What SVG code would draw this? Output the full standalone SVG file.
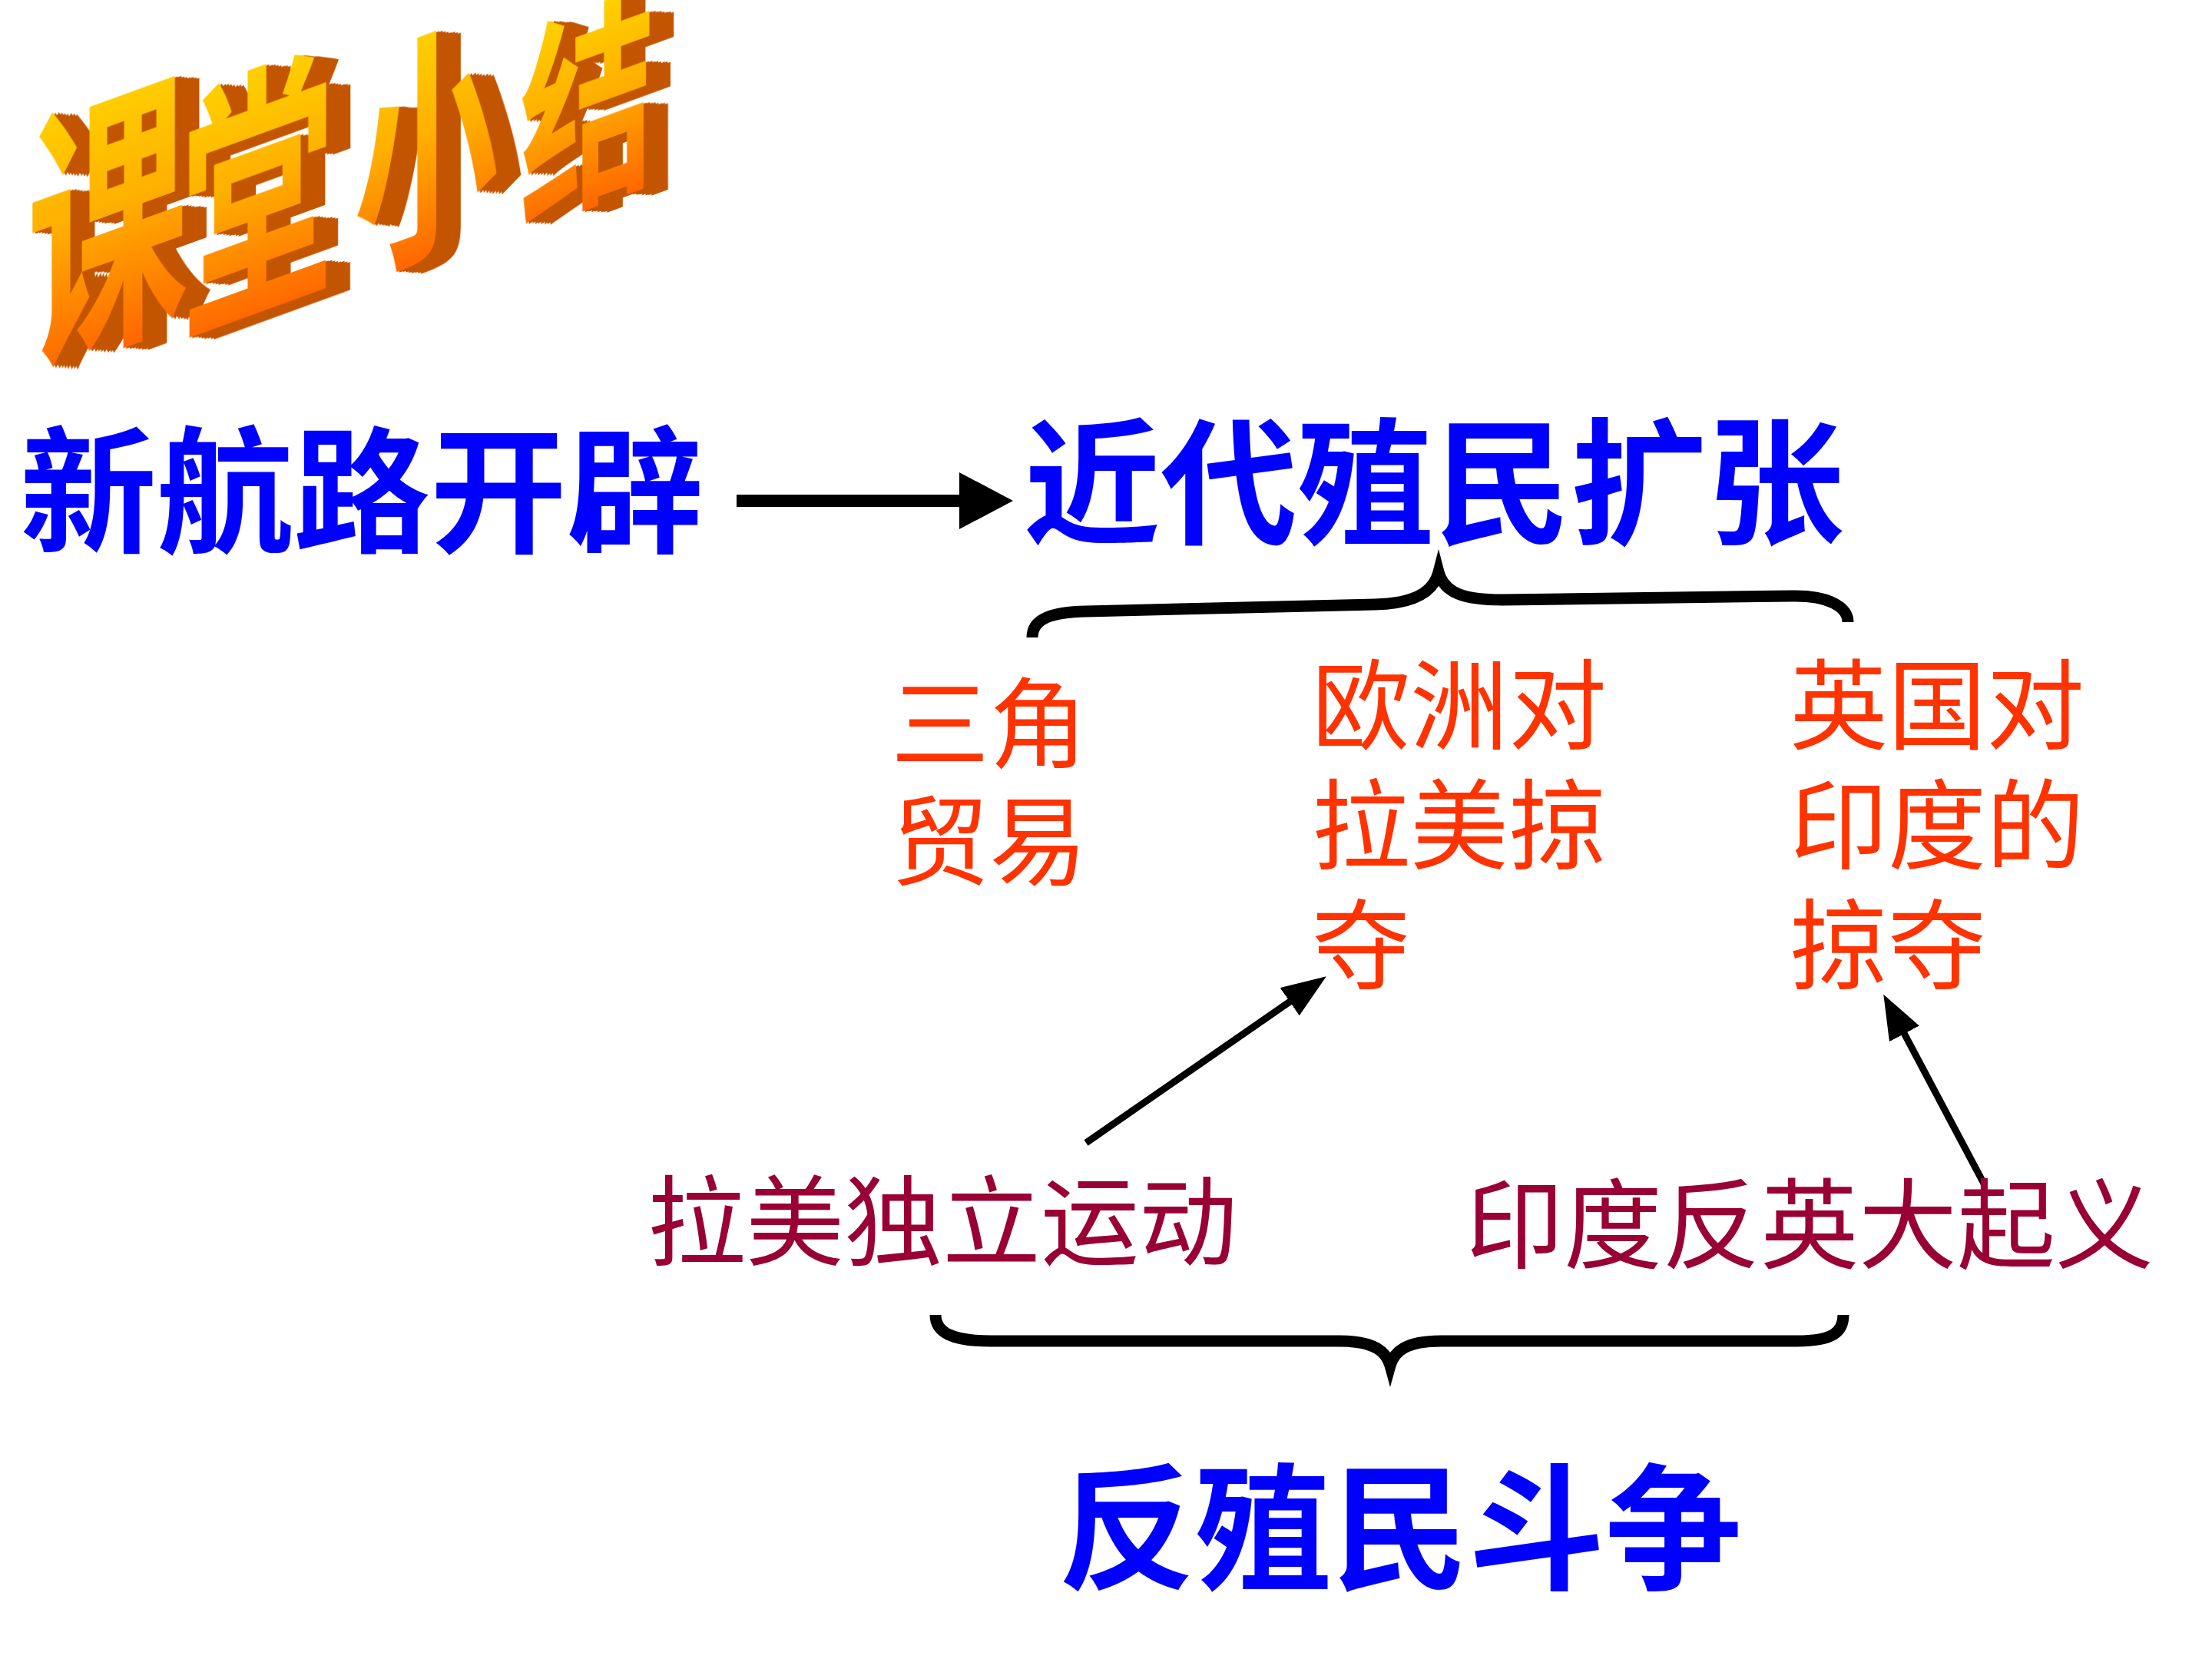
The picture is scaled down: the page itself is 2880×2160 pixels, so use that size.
<svg xmlns="http://www.w3.org/2000/svg" width="2880" height="2160" viewBox="0 0 2880 2160">
<defs>
<style>
.blue{font-family:"Noto Sans CJK SC","Liberation Sans",sans-serif;font-size:178px;font-weight:bold;fill:#0000FF;text-anchor:middle}
.red{font-family:"Noto Sans CJK SC","Liberation Sans",sans-serif;font-size:128px;fill:#FF3300}
.dred{font-family:"Noto Sans CJK SC","Liberation Sans",sans-serif;font-size:128px;fill:#990033}
.ttl{font-family:"Noto Sans CJK SC","Liberation Sans",sans-serif;font-weight:bold;fill:url(#tg);text-anchor:middle;filter:url(#ext)}
.brace{fill:none;stroke:#000;stroke-width:15}
.conn{stroke:#000;fill:none}
</style>
<linearGradient id="tg" x1="0" y1="0" x2="0" y2="1">
<stop offset="0" stop-color="#FFE800"/>
<stop offset="0.5" stop-color="#FFB000"/>
<stop offset="1" stop-color="#FF4A00"/>
</linearGradient>
<filter id="ext" x="-30%" y="-30%" width="170%" height="170%">
<feOffset in="SourceAlpha" dx="4" dy="1" result="o1"/>
<feOffset in="SourceAlpha" dx="8" dy="2" result="o2"/>
<feOffset in="SourceAlpha" dx="12" dy="3" result="o3"/>
<feOffset in="SourceAlpha" dx="16" dy="4" result="o4"/>
<feOffset in="SourceAlpha" dx="20" dy="5" result="o5"/>
<feOffset in="SourceAlpha" dx="24" dy="6" result="o6"/>
<feOffset in="SourceAlpha" dx="28" dy="7" result="o7"/>
<feOffset in="SourceAlpha" dx="32" dy="8" result="o8"/>
<feMerge result="m"><feMergeNode in="o1"/><feMergeNode in="o2"/><feMergeNode in="o3"/><feMergeNode in="o4"/><feMergeNode in="o5"/><feMergeNode in="o6"/><feMergeNode in="o7"/><feMergeNode in="o8"/></feMerge>
<feFlood flood-color="#C45400"/>
<feComposite operator="in" in2="m" result="side"/>
<feMerge><feMergeNode in="side"/><feMergeNode in="SourceGraphic"/></feMerge>
</filter>
<marker id="ah" markerUnits="userSpaceOnUse" markerWidth="60" markerHeight="46" refX="18" refY="22" orient="auto"><path d="M0,0 L58,22 L0,44 Z" fill="#000"/></marker>
<marker id="ahb" markerUnits="userSpaceOnUse" markerWidth="72" markerHeight="76" refX="20" refY="37" orient="auto"><path d="M0,0 L70,37 L0,74 Z" fill="#000"/></marker>
</defs>
<rect width="2880" height="2160" fill="#FFFFFF"/>

<g id="title">
<text class="ttl" transform="translate(140,428) skewY(-20) scale(1,1.75)" font-size="210">课</text>
<text class="ttl" transform="translate(335,385) skewY(-20) scale(1,1.75)" font-size="200">堂</text>
<text class="ttl" transform="translate(555,312) skewY(-20) scale(1,1.7)" font-size="188">小</text>
<text class="ttl" transform="translate(765,248) skewY(-20) scale(1,1.6)" font-size="176">结</text>
</g>

<g id="connectors">
<line class="conn" x1="959" y1="652" x2="1269" y2="652" stroke-width="16" marker-end="url(#ahb)"/>
<line class="conn" x1="1414" y1="1488" x2="1694" y2="1294" stroke-width="9" marker-end="url(#ah)"/>
<line class="conn" x1="2584" y1="1543" x2="2471" y2="1330" stroke-width="9" marker-end="url(#ah)"/>
<path id="brace-top" class="brace" d="M1344,830 C1344,805 1370,797 1414,796 L1790,787 C1840,786 1866,772 1873,745 C1880,772 1906,781 1956,781 L2333,776 C2380,775 2406,790 2406,810"/>
<path id="brace-bottom" class="brace" d="M1218,1712 C1218,1735 1240,1746 1290,1746 L1744,1746 C1790,1746 1805,1760 1810,1778 C1815,1760 1830,1746 1876,1746 L2340,1746 C2385,1746 2400,1735 2400,1712"/>
</g>

<g id="node-xinhanglu"><text class="blue" x="471" y="706">新航路开辟</text></g>
<g id="node-zhimin"><text class="blue" x="1867" y="695">近代殖民扩张</text></g>
<g id="node-fanzhimin"><text class="blue" x="1823" y="2056">反殖民斗争</text></g>

<g id="node-sanjiao">
<text class="red" x="1160" y="990">三角</text>
<text class="red" x="1160" y="1143">贸易</text>
</g>
<g id="node-ouzhou">
<text class="red" x="1708" y="966">欧洲对</text>
<text class="red" x="1708" y="1122">拉美掠</text>
<text class="red" x="1708" y="1278">夺</text>
</g>
<g id="node-yingguo">
<text class="red" x="2330" y="966">英国对</text>
<text class="red" x="2330" y="1122">印度的</text>
<text class="red" x="2330" y="1278">掠夺</text>
</g>

<g id="node-lamei"><text class="dred" x="843" y="1638">拉美独立运动</text></g>
<g id="node-yindu"><text class="dred" x="1908" y="1642">印度反英大起义</text></g>
</svg>
